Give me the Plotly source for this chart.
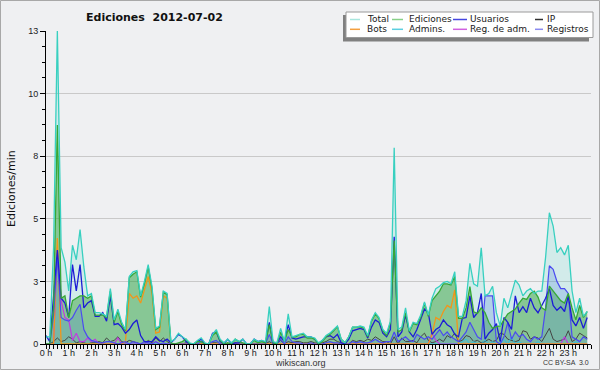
import plotly.graph_objects as go

# ---- data: edits per minute, 10-minute steps over 2012-07-02 ----
hour_labels = [f"{h} h" for h in range(24)]
steps = [i / 6 for i in range(144)]

total = [
    0.3, 0.3, 4.0, 13.0, 4.0, 3.4,
    2.2, 4.1, 3.5, 4.75, 3.2, 2.0,
    2.1, 1.3, 1.3, 1.25, 1.15, 2.3,
    1.0, 1.45, 0.9, 0.6, 2.8, 3.0,
    3.05, 2.0, 2.6, 3.3, 2.4, 0.65,
    0.75, 2.2, 2.1, 0.1, 0.2, 0.45,
    0.3, 0.2, 0.05, 0.0, 0.15, 0.25,
    0.05, 0.0, 0.4, 0.6, 0.2, 0.05,
    0.2, 0.05, 0.2, 0.1, 0.2, 0.0,
    0.0, 0.2, 0.1, 0.15, 0.1, 1.55,
    0.1, 0.05, 0.65, 0.1, 1.25, 0.3,
    0.35, 0.4, 0.45, 0.3, 0.3, 0.25,
    0.05, 0.15, 0.35, 0.45, 0.6, 0.75,
    0.2, 0.05, 0.3, 0.7, 0.7, 0.75,
    0.7, 0.35, 1.0, 1.3, 1.1, 0.6,
    0.45, 0.95, 8.15, 0.6, 0.7, 1.5,
    0.55, 0.9, 0.85, 1.2, 1.75, 1.2,
    1.9, 2.3, 2.4, 2.55, 2.6, 2.5,
    3.0, 1.15, 1.15, 1.8, 3.35, 2.5,
    2.4, 4.0, 2.0, 2.1, 2.4, 1.3,
    0.75, 1.9, 1.5, 2.1, 2.65, 2.45,
    2.0, 2.2, 2.3, 2.1, 2.2, 2.2,
    3.6, 5.45, 4.9, 3.8, 4.0, 3.7,
    4.1, 2.2, 1.3, 1.9, 1.15, 1.35,
]

ediciones = [
    0.0, 0.0, 1.5, 9.1, 1.9, 2.0,
    1.1, 1.8, 1.9, 2.0, 2.0, 1.9,
    2.0, 1.2, 1.2, 1.2, 1.1, 2.2,
    0.9, 1.35, 0.8, 0.55, 2.75, 2.9,
    3.0, 1.95, 2.5, 3.2, 2.3, 0.6,
    0.7, 2.15, 2.05, 0.05, 0.0, 0.05,
    0.1, 0.2, 0.0, 0.0, 0.1, 0.1,
    0.0, 0.0, 0.35, 0.5, 0.15, 0.0,
    0.05, 0.0, 0.2, 0.1, 0.05, 0.0,
    0.0, 0.15, 0.05, 0.1, 0.05, 0.8,
    0.05, 0.0, 0.5, 0.1, 0.6, 0.3,
    0.3, 0.4, 0.4, 0.25, 0.25, 0.2,
    0.0, 0.1, 0.3, 0.4, 0.55, 0.72,
    0.2, 0.05, 0.3, 0.7, 0.7, 0.72,
    0.65, 0.3, 0.95, 1.25, 1.05, 0.55,
    0.35, 0.9, 4.3, 0.5, 0.6, 1.3,
    0.5, 0.85, 0.8, 1.1, 1.7, 1.15,
    1.8, 2.0, 2.2, 2.5, 2.5, 2.45,
    2.8, 1.07, 1.07, 1.5, 2.38, 1.34,
    1.27, 1.5, 1.3, 0.9, 0.65, 0.72,
    0.75, 1.0, 1.25, 1.35, 1.45, 1.7,
    1.9, 1.85, 2.1, 2.2, 1.95, 1.5,
    1.4, 2.4, 2.2, 2.0, 1.8, 1.7,
    2.1, 1.5, 1.0, 1.6, 1.1, 1.35,
]

usuarios = [
    0.35, 0.1, 2.0, 3.9, 1.9, 1.7,
    1.1, 3.3, 2.2, 3.3, 1.5, 1.7,
    1.8, 1.15, 1.15, 1.3, 0.95, 2.0,
    0.8, 0.85, 0.7, 0.45, 0.6, 0.85,
    1.0, 0.35, 0.1, 0.1, 0.1, 0.3,
    0.15, 0.1, 0.2, 0.05, 0.2, 0.4,
    0.3, 0.1, 0.0, 0.0, 0.1, 0.2,
    0.0, 0.0, 0.45, 0.5, 0.1, 0.0,
    0.2, 0.0, 0.05, 0.05, 0.2, 0.0,
    0.0, 0.2, 0.1, 0.15, 0.05, 0.9,
    0.05, 0.05, 0.3, 0.1, 0.8, 0.25,
    0.2, 0.25, 0.3, 0.3, 0.3, 0.2,
    0.0, 0.15, 0.3, 0.35, 0.25, 0.4,
    0.05, 0.0, 0.2, 0.55, 0.6, 0.65,
    0.6, 0.25, 0.7, 1.0, 0.9, 0.45,
    0.3, 0.6, 4.45, 0.3, 0.5, 1.2,
    0.5, 0.3, 0.6, 1.0, 1.45, 1.3,
    0.4, 0.6, 0.7, 1.0, 0.8, 0.7,
    0.4, 0.3, 1.07, 1.1, 2.0, 1.1,
    1.3, 2.1, 0.2, 0.45, 0.6, 0.85,
    0.1, 1.1, 0.9, 0.6, 2.0, 1.3,
    1.55, 1.3, 1.9, 1.5, 1.3, 1.6,
    1.9, 2.3, 1.6, 1.4, 1.55, 1.35,
    2.0, 1.0, 0.75, 1.1, 0.65, 1.1,
]

registros = [
    0.0, 0.0, 1.2, 3.6, 1.1, 1.0,
    0.95, 1.1, 1.4, 1.65, 0.6, 0.3,
    0.15, 0.1, 0.05, 0.05, 0.1, 0.1,
    0.05, 0.0, 0.05, 0.1, 0.0, 0.1,
    0.05, 0.0, 0.1, 0.05, 0.0, 0.1,
    0.0, 0.05, 0.0, 0.0, 0.0, 0.0,
    0.0, 0.0, 0.0, 0.0, 0.0, 0.1,
    0.0, 0.0, 0.1, 0.15, 0.0, 0.0,
    0.0, 0.0, 0.0, 0.0, 0.0, 0.0,
    0.0, 0.0, 0.0, 0.0, 0.0, 0.4,
    0.0, 0.0, 0.2, 0.0, 0.3, 0.1,
    0.05, 0.05, 0.0, 0.0, 0.05, 0.0,
    0.0, 0.0, 0.05, 0.1, 0.05, 0.05,
    0.0, 0.0, 0.0, 0.1, 0.05, 0.1,
    0.05, 0.05, 0.1, 0.2, 0.1, 0.05,
    0.1, 0.1, 0.5, 0.1, 0.2, 0.3,
    0.15, 0.1, 0.4, 0.3, 0.2, 0.3,
    0.2, 0.4, 0.6, 0.35, 0.5, 0.3,
    0.2, 0.1, 0.3, 0.5, 0.9, 0.6,
    0.3, 0.2, 2.0, 2.0, 2.0, 0.1,
    0.0, 0.3, 0.9, 0.2, 0.5, 0.3,
    0.4, 0.2, 0.1, 0.3, 0.2, 0.3,
    1.5, 3.25, 3.1, 2.6, 2.3, 2.3,
    2.1, 0.3, 0.2, 0.1, 0.3, 0.2,
]

ip = [
    0.0, 0.0, 0.1, 0.25, 0.1, 0.15,
    0.3, 0.2, 0.05, 0.1, 0.05, 0.0,
    0.05, 0.05, 0.1, 0.05, 0.25, 0.1,
    0.15, 0.3, 0.1, 0.05, 0.15, 0.1,
    0.05, 0.0, 0.0, 0.15, 0.05, 0.25,
    0.1, 0.25, 0.1, 0.0, 0.0, 0.0,
    0.0, 0.05, 0.0, 0.0, 0.0, 0.0,
    0.0, 0.0, 0.05, 0.05, 0.0, 0.0,
    0.0, 0.0, 0.05, 0.0, 0.0, 0.0,
    0.0, 0.0, 0.0, 0.0, 0.0, 0.1,
    0.0, 0.0, 0.15, 0.0, 0.1, 0.05,
    0.1, 0.1, 0.05, 0.05, 0.1, 0.05,
    0.0, 0.05, 0.1, 0.2, 0.2, 0.1,
    0.05, 0.0, 0.0, 0.15, 0.1, 0.15,
    0.1, 0.2, 0.15, 0.3, 0.2, 0.1,
    0.1, 0.0, 0.3, 0.0, 0.25, 0.1,
    0.1, 0.15, 0.05, 0.3, 0.45, 0.15,
    0.05, 0.1, 0.2, 0.1, 0.35, 0.25,
    0.45, 0.1, 0.15, 0.35, 0.3, 0.1,
    0.15, 0.05, 0.1, 0.2, 0.1, 0.15,
    0.45, 0.4, 0.2, 0.15, 0.1, 0.15,
    0.55, 0.5, 0.2, 0.3, 0.25, 0.1,
    0.4, 0.65, 0.2, 0.1, 0.15, 0.2,
    0.55, 0.1, 0.2, 0.45, 0.35, 0.25,
]

bots = [
    0, 0, 0, 4.4, 0, 0,
    0, 0, 0, 0, 0, 0,
    0, 0, 0, 0, 0, 0,
    0, 0, 0, 0.1, 2.1, 1.9,
    2.0, 1.7, 2.2, 2.8, 2.1, 0.45,
    0.5, 2.0, 1.9, 0, 0, 0,
    0, 0, 0, 0, 0, 0,
    0, 0, 0, 0, 0, 0,
    0, 0, 0, 0, 0, 0,
    0, 0, 0, 0, 0, 0,
    0, 0, 0, 0, 0, 0,
    0, 0, 0, 0, 0, 0,
    0, 0, 0, 0, 0, 0,
    0, 0, 0, 0, 0, 0,
    0, 0, 0, 0, 0, 0,
    0, 0, 0, 0, 0, 0,
    0, 0, 0, 0, 0, 0,
    0.4, 1.1, 1.0, 1.35, 1.6, 1.5,
    2.25, 0, 0, 0, 0, 0,
    0, 0, 0, 0, 0, 0,
    0, 0, 0, 0, 0, 0,
    0, 0, 0, 0, 0, 0,
    0, 0, 0, 0, 0, 0,
    0, 0, 0, 0, 0, 0,
]

admins = [
    0, 0, 0, 0, 0, 0,
    0, 0, 0, 0, 0, 0,
    0, 0, 0, 0, 0, 0,
    0, 0, 0, 0, 0, 0,
    0, 0, 0, 0, 0, 0,
    0, 0, 0, 0, 0, 0,
    0, 0, 0, 0, 0, 0.2,
    0, 0, 0, 0, 0, 0,
    0, 0, 0, 0, 0, 0,
    0, 0, 0, 0, 0, 0,
    0, 0, 0, 0, 0, 0,
    0, 0, 0, 0, 0, 0,
    0, 0, 0, 0, 0, 0,
    0, 0, 0, 0, 0, 0,
    0, 0, 0, 0, 0, 0,
    0, 0, 0, 0, 0, 0,
    0, 0, 0, 0, 0, 0,
    0, 0, 0, 0, 0, 0,
    0, 0, 0.1, 0.2, 0, 0.1,
    0, 0, 0.15, 0, 0.1, 0,
    0, 0.2, 0, 0.3, 0, 0.1,
    0, 0, 0, 0, 0.1, 0,
    0, 0, 0, 0, 0, 0,
    0, 0, 0.1, 0, 0, 0,
]

reg_adm = [
    0, 0, 0, 4.0, 1.8, 1.1,
    1.0, 0.15, 0.45, 0.1, 0.1, 0.25,
    0.1, 0.2, 0, 0, 0, 0,
    0, 0.25, 0, 0, 0, 0,
    0, 0, 0, 0, 0, 0.1,
    0, 0, 0, 0, 0, 0,
    0, 0, 0, 0, 0, 0,
    0, 0, 0, 0, 0, 0,
    0, 0, 0, 0, 0, 0,
    0, 0, 0, 0, 0, 0,
    0, 0, 0, 0, 0, 0,
    0, 0, 0, 0, 0, 0,
    0, 0, 0, 0, 0, 0,
    0, 0, 0, 0, 0, 0,
    0, 0, 0, 0, 0, 0,
    0, 0, 0, 0, 0, 0,
    0, 0, 0, 0, 0, 0,
    0.45, 0.15, 0, 0, 0, 0,
    0, 0, 0, 0, 0, 0,
    0, 0, 0, 0, 0, 0,
    0, 0, 0, 0, 0, 0,
    0, 0, 0, 0, 0, 0,
    0, 0, 0, 0, 0, 0.3,
    0, 0, 0, 0, 0, 0,
]

y_tickvals = [0, 2.6, 5.2, 7.8, 10.4, 13]
y_ticktext = ["0", "3", "5", "8", "10", "13"]

legend_names = ["Total", "Ediciones", "Usuarios", "IP",
                "Bots", "Admins.", "Reg. de adm.", "Registros"]
legend_colors = ["#a8e6de", "#88d088", "#4646e0", "#303030",
                 "#f4a040", "#5ccfe0", "#d060e0", "#8a8af0"]

# ---- geometry ----
W, H = 600, 370
ML, MR, MT, MB = 46, 9, 31, 26
PW, PH = W - ML - MR, H - MT - MB


def px(x):
    return (x - ML) / PW


def py(y):
    return (H - MB - y) / PH


fig = go.Figure()

# fills
fig.add_trace(go.Scatter(x=steps, y=total, mode="lines", line=dict(width=0),
                         fill="tozeroy", fillcolor="rgba(64,210,190,0.16)",
                         hoverinfo="skip", showlegend=False))
fig.add_trace(go.Scatter(x=steps, y=ediciones, mode="lines", line=dict(width=0),
                         fill="tozeroy", fillcolor="rgba(30,150,30,0.42)",
                         hoverinfo="skip", showlegend=False))
fig.add_trace(go.Scatter(x=steps, y=registros, mode="lines", line=dict(width=0),
                         fill="tozeroy", fillcolor="rgba(80,130,220,0.25)",
                         hoverinfo="skip", showlegend=False))

# lines
line_specs = [
    (ip, "#454545", 1.0),
    (admins, "#30c0e0", 1.0),
    (reg_adm, "#c03ce0", 1.2),
    (bots, "#f39519", 1.3),
    (registros, "#4b4bf0", 1.2),
    (usuarios, "#1c1cd6", 1.3),
    (ediciones, "#36a836", 1.3),
    (total, "#38d0c0", 1.3),
]
for ys, col, w in line_specs:
    fig.add_trace(go.Scatter(x=steps, y=ys, mode="lines",
                             line=dict(color=col, width=w),
                             hoverinfo="skip", showlegend=False))

shapes = []
annotations = []

# outer border
shapes.append(dict(type="rect", xref="paper", yref="paper",
                   x0=px(0.5), x1=px(599.5), y0=py(0.5), y1=py(369.5),
                   line=dict(color="#a8a8a8", width=1), layer="above"))

# legend box with shadow
shapes.append(dict(type="rect", xref="paper", yref="paper",
                   x0=px(343), x1=px(589), y0=py(15), y1=py(41.5),
                   line=dict(width=0), fillcolor="#808080", layer="above"))
shapes.append(dict(type="rect", xref="paper", yref="paper",
                   x0=px(346), x1=px(593), y0=py(12), y1=py(37.5),
                   line=dict(color="#9a9a9a", width=1), fillcolor="#ffffff",
                   layer="above"))
col_lines = [(350, 360, 366), (392, 403, 408), (453, 467, 469), (535, 543, 546)]
row_y = [19.5, 29.3]
for k, (name, col) in enumerate(zip(legend_names, legend_colors)):
    r, c = divmod(k, 4)
    lx0, lx1, tx = col_lines[c]
    yy = row_y[r]
    shapes.append(dict(type="line", xref="paper", yref="paper",
                       x0=px(lx0), x1=px(lx1), y0=py(yy), y1=py(yy),
                       line=dict(color=col, width=1.5), layer="above"))
    annotations.append(dict(text=name, xref="paper", yref="paper",
                            x=px(tx - 1), y=py(yy), xanchor="left", yanchor="middle",
                            showarrow=False,
                            font=dict(family="DejaVu Sans", size=9, color="#1a1a1a")))

# title & texts
annotations.append(dict(text="Ediciones  2012-07-02", xref="paper", yref="paper",
                        x=px(154), y=py(17), xanchor="center", yanchor="middle",
                        showarrow=False,
                        font=dict(family="DejaVu Sans", size=11, color="#111111",
                                  weight="bold")))
annotations.append(dict(text="Ediciones/min", xref="paper", yref="paper",
                        x=px(11), y=py(189), xanchor="center", yanchor="middle",
                        textangle=-90, showarrow=False,
                        font=dict(family="DejaVu Sans", size=11, color="#111111")))
annotations.append(dict(text="wikiscan.org", xref="paper", yref="paper",
                        x=px(300), y=py(362.5), xanchor="center", yanchor="middle",
                        showarrow=False,
                        font=dict(family="Liberation Sans", size=9, color="#333333")))
annotations.append(dict(text="CC BY-SA  3.0", xref="paper", yref="paper",
                        x=px(591), y=py(362.5), xanchor="right", yanchor="middle",
                        showarrow=False,
                        font=dict(family="Liberation Sans", size=7, color="#333333")))

fig.update_layout(
    width=W, height=H,
    margin=dict(l=ML, r=MR, t=MT, b=MB),
    paper_bgcolor="#eff0f2",
    plot_bgcolor="#eff0f2",
    showlegend=False,
    shapes=shapes,
    annotations=annotations,
    xaxis=dict(range=[0, 24], tickvals=list(range(24)), ticktext=hour_labels,
               ticks="outside", ticklen=4, tickcolor="#000000", tickwidth=1,
               ticklabelstandoff=-4,
               showline=True, linecolor="#000000", linewidth=1,
               showgrid=False, zeroline=False,
               tickfont=dict(family="Liberation Sans", size=9, color="#222222"),
               minor=dict(dtick=1 / 6, tick0=0, ticks="outside", ticklen=4,
                          tickcolor="#000000", showgrid=False)),
    yaxis=dict(range=[0, 13], tickvals=y_tickvals, ticktext=y_ticktext,
               ticks="outside", ticklen=5, tickcolor="#000000", tickwidth=1,
               showline=True, linecolor="#000000", linewidth=1,
               showgrid=True, gridcolor="#c9c9c9", gridwidth=1, zeroline=False,
               tickfont=dict(family="Liberation Sans", size=9, color="#222222"),
               minor=dict(dtick=0.65, tick0=0, ticks="outside", ticklen=3,
                          tickcolor="#000000", showgrid=False)),
)

fig.write_html(
    "out.html",
    config={"displayModeBar": False, "staticPlot": True},
    post_script="document.body.style.margin='0';document.body.style.padding='0';"
                "document.documentElement.style.overflow='hidden';",
)
